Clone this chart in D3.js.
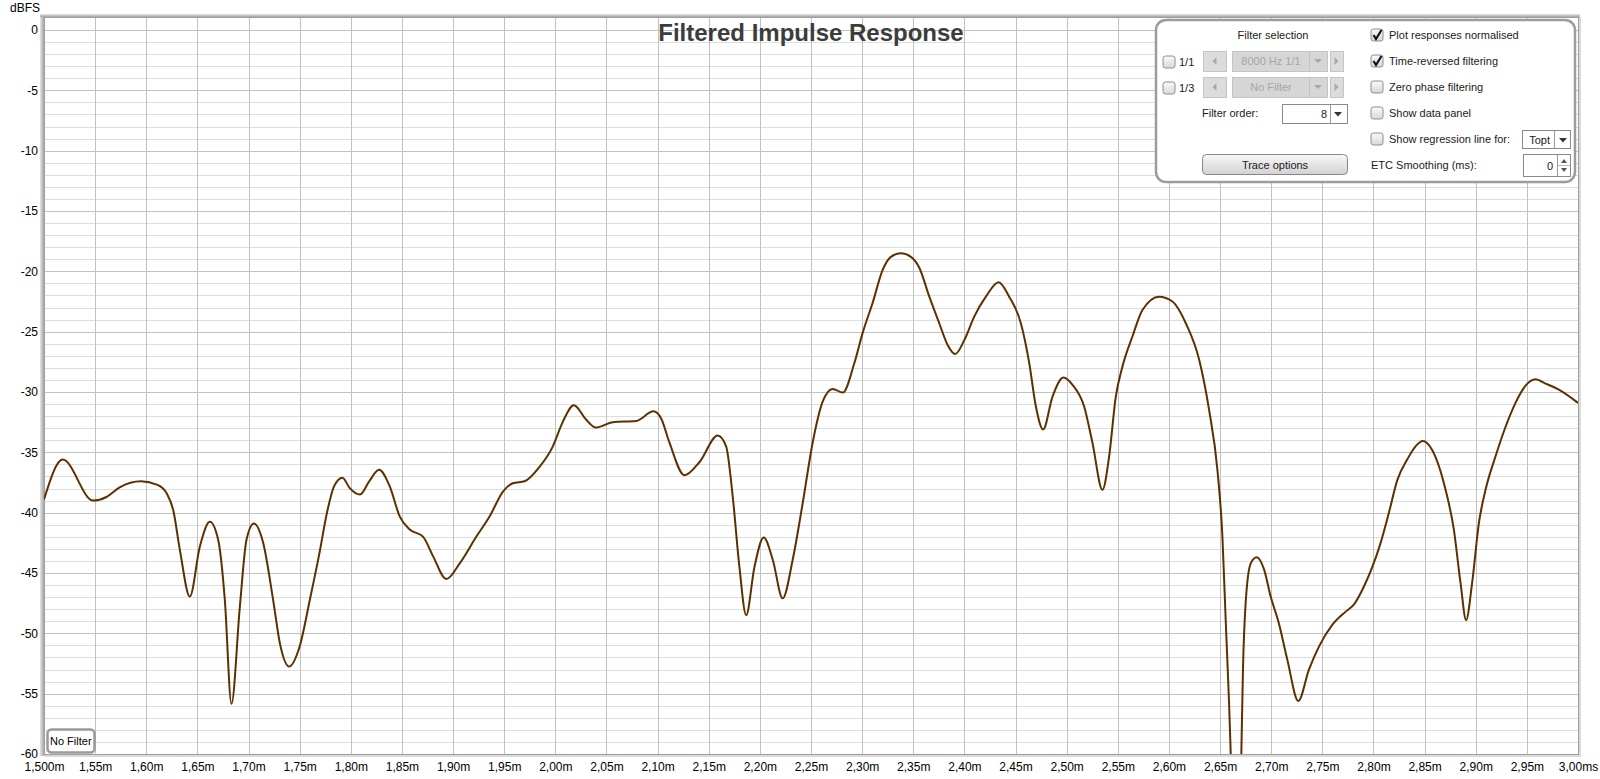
<!DOCTYPE html>
<html><head><meta charset="utf-8">
<script src="https://cdn.jsdelivr.net/npm/d3@7/dist/d3.min.js"></script>
<style>
html,body{margin:0;padding:0;background:#fff;}
svg{display:block;font-family:"Liberation Sans",Arial,sans-serif;}
</style></head><body>
<svg id="chart" width="1600" height="779"></svg>
<script>
// ---- data ----
const times = [1.500,1.5183,1.548,1.561,1.574,1.5948,1.611,1.620,1.6264,1.6329,1.6426,1.6524,1.6622,1.6703,1.6768,1.6833,1.6915,1.698,1.7052,1.7143,1.724,1.7306,1.7397,1.7501,1.760,1.769,1.7772,1.7837,1.7918,1.799,1.809,1.818,1.8276,1.838,1.8478,1.8576,1.8706,1.8804,1.8934,1.9065,1.9228,1.9358,1.9488,1.9585,1.970,1.9846,1.9976,2.0074,2.0181,2.0302,2.0393,2.0562,2.079,2.096,2.1035,2.1116,2.1263,2.141,2.1588,2.167,2.1735,2.180,2.1866,2.1947,2.2038,2.2126,2.2223,2.2321,2.2419,2.2516,2.2614,2.2712,2.281,2.2924,2.3005,2.3103,2.32,2.3281,2.3379,2.3477,2.3559,2.3657,2.3754,2.3836,2.391,2.3999,2.4096,2.421,2.4334,2.4438,2.4552,2.4634,2.4699,2.477,2.4861,2.4969,2.5057,2.5171,2.5252,2.535,2.5415,2.548,2.5545,2.5643,2.5741,2.5904,2.6034,2.6165,2.6295,2.6393,2.6474,2.6523,2.6555,2.6588,2.6604,2.6660,2.6708,2.6724,2.675,2.68,2.6858,2.693,2.6995,2.7076,2.7158,2.7265,2.7369,2.7467,2.7597,2.7728,2.781,2.7908,2.7989,2.807,2.8151,2.8233,2.833,2.8411,2.8483,2.8574,2.8705,2.8786,2.8851,2.8906,2.8965,2.903,2.9096,2.9193,2.9291,2.9389,2.9485,2.9584,2.9682,2.9812,3.000];
const levels = [-38.9,-35.6,-39.0,-38.7,-37.9,-37.4,-37.7,-38.4,-39.8,-43.1,-46.95,-42.8,-40.76,-42.25,-47.2,-55.84,-47.8,-42.25,-40.9,-42.5,-47.2,-50.8,-52.75,-51.05,-47.2,-43.5,-39.8,-37.8,-37.1,-37.97,-38.5,-37.4,-36.45,-37.8,-40.3,-41.4,-41.98,-43.6,-45.5,-44.2,-41.98,-40.3,-38.25,-37.56,-37.4,-36.2,-34.5,-32.45,-31.1,-32.3,-32.95,-32.5,-32.4,-31.6,-32.2,-34.2,-36.9,-35.8,-33.6,-34.5,-38.7,-44.5,-48.5,-44.5,-42.06,-43.9,-47.1,-43.9,-39.2,-34.2,-30.8,-29.74,-30.05,-27.6,-25.1,-22.6,-19.9,-18.8,-18.5,-18.8,-19.7,-22.1,-24.3,-26.1,-26.85,-25.7,-23.75,-22.1,-20.9,-22.1,-24.3,-27.6,-31.2,-33.1,-30.4,-28.8,-29.4,-31.2,-34.2,-38.1,-35.35,-30.4,-27.9,-25.4,-23.2,-22.1,-22.5,-24.3,-27.3,-31.5,-36.45,-42.0,-48.9,-55.8,-59.9,-75,-59.9,-53.0,-47.5,-44.2,-43.7,-44.7,-46.95,-49.2,-52.2,-55.6,-53.0,-51.1,-49.3,-48.2,-47.6,-46.1,-44.5,-42.5,-40.0,-37.3,-35.6,-34.5,-34.05,-34.8,-38.1,-41.4,-45.8,-48.9,-45.8,-40.9,-38.1,-35.35,-32.9,-30.9,-29.5,-28.95,-29.3,-29.8,-30.9];
const xTickValues = d3.range(0,31).map(i => +(1.5 + i*0.05).toFixed(2));
const xTickLabels = ["1,500m","1,55m","1,60m","1,65m","1,70m","1,75m","1,80m","1,85m","1,90m","1,95m","2,00m","2,05m","2,10m","2,15m","2,20m","2,25m","2,30m","2,35m","2,40m","2,45m","2,50m","2,55m","2,60m","2,65m","2,70m","2,75m","2,80m","2,85m","2,90m","2,95m","3,00ms"];
const yTickValues = [0,-5,-10,-15,-20,-25,-30,-35,-40,-45,-50,-55,-60];
const yTickLabels = ["0","-5","-10","-15","-20","-25","-30","-35","-40","-45","-50","-55","-60"];
const yMinorValues = d3.range(-60,1,1);
const titleText = "Filtered Impulse Response";
const yAxisTitle = "dBFS";

// ---- layout ----
const L=44, R=1578, T=17, B=754;
const svg = d3.select("#chart");
const x = d3.scaleLinear().domain([1.5,3.0]).range([L,R]);
const y = d3.scaleLinear().domain([-60,1.08]).range([B,T]);

const defs = svg.append("defs");
defs.append("clipPath").attr("id","plotclip").append("rect").attr("x",L).attr("y",T).attr("width",R-L).attr("height",B-T);
const gl = defs.append("linearGradient").attr("id","shadeL").attr("x1","0").attr("x2","1").attr("y1","0").attr("y2","0");
gl.append("stop").attr("offset","0").attr("stop-color","#e6e6e6");
gl.append("stop").attr("offset","1").attr("stop-color","#a4a4a4");
const gt = defs.append("linearGradient").attr("id","shadeT").attr("x1","0").attr("x2","0").attr("y1","0").attr("y2","1");
gt.append("stop").attr("offset","0").attr("stop-color","#e6e6e6");
gt.append("stop").attr("offset","1").attr("stop-color","#a4a4a4");
const gb = defs.append("linearGradient").attr("id","btnGrad").attr("x1","0").attr("x2","0").attr("y1","0").attr("y2","1");
gb.append("stop").attr("offset","0").attr("stop-color","#f8f8f8");
gb.append("stop").attr("offset","1").attr("stop-color","#d2d2d2");
const gc = defs.append("linearGradient").attr("id","cbGrad").attr("x1","0").attr("x2","0").attr("y1","0").attr("y2","1");
gc.append("stop").attr("offset","0").attr("stop-color","#fafafa");
gc.append("stop").attr("offset","1").attr("stop-color","#d8d8d8");

// plot background
svg.append("rect").attr("x",L).attr("y",T).attr("width",R-L).attr("height",B-T).attr("fill","#fff");

// grid
const grid = svg.append("g");
grid.selectAll("line.minor").data(yMinorValues.filter(v=>v%5!==0)).join("line")
  .attr("x1",L).attr("x2",R).attr("y1",d=>Math.round(y(d))+0.5).attr("y2",d=>Math.round(y(d))+0.5)
  .attr("stroke","#dedede").attr("stroke-width",1);
grid.selectAll("line.vmaj").data(xTickValues).join("line")
  .attr("y1",T).attr("y2",B).attr("x1",d=>Math.round(x(d))+0.5).attr("x2",d=>Math.round(x(d))+0.5)
  .attr("stroke","#c2c2c2").attr("stroke-width",1);
grid.selectAll("line.hmaj").data(yTickValues).join("line")
  .attr("x1",L).attr("x2",R).attr("y1",d=>Math.round(y(d))+0.5).attr("y2",d=>Math.round(y(d))+0.5)
  .attr("stroke","#c2c2c2").attr("stroke-width",1);

// frame with shading
svg.append("rect").attr("x",L-4).attr("y",T-3).attr("width",4).attr("height",B-T+5).attr("fill","url(#shadeL)");
svg.append("rect").attr("x",L-4).attr("y",T-3).attr("width",R-L+6).attr("height",3).attr("fill","url(#shadeT)");
svg.append("rect").attr("x",L).attr("y",B+1).attr("width",R-L+3).attr("height",2).attr("fill","#dadada");
svg.append("rect").attr("x",R+1).attr("y",T).attr("width",2).attr("height",B-T+3).attr("fill","#dadada");
svg.append("rect").attr("x",L+0.5).attr("y",T+0.5).attr("width",R-L).attr("height",B-T).attr("fill","none").attr("stroke","#9e9e9e");

// curve
const pts = times.map((t,i)=>[t,levels[i]]);
const line = d3.line().x(d=>x(d[0])).y(d=>y(d[1])).curve(d3.curveMonotoneX);
svg.append("path").attr("clip-path","url(#plotclip)").datum(pts).attr("d",line)
  .attr("fill","none").attr("stroke","#5c3100").attr("stroke-width",2).attr("stroke-linejoin","round");

// axes
const xAxis = d3.axisBottom(x).tickValues(xTickValues).tickSize(0).tickPadding(0)
  .tickFormat((d,i)=>xTickLabels[i]);
const gx = svg.append("g").attr("transform",`translate(0,${B+8})`).call(xAxis);
gx.select(".domain").remove();
gx.selectAll("text").attr("font-size",12).attr("fill","#000").attr("font-family","'Liberation Sans',Arial,sans-serif").attr("dy","0.71em");

const yAxis = d3.axisLeft(y).tickValues(yTickValues).tickSize(0).tickPadding(0)
  .tickFormat((d,i)=>yTickLabels[i]);
const gy = svg.append("g").attr("transform",`translate(${L-6},0)`).call(yAxis);
gy.select(".domain").remove();
gy.selectAll("text").attr("font-size",12).attr("fill","#000").attr("font-family","'Liberation Sans',Arial,sans-serif");

svg.append("text").attr("x",10).attr("y",12).attr("font-size",12).attr("fill","#000").text(yAxisTitle);

// title
svg.append("text").attr("x",(L+R)/2).attr("y",41).attr("text-anchor","middle")
  .attr("font-size",24).attr("font-weight","bold").attr("fill","#3c3c3c").text(titleText);

// "No Filter" label
svg.append("rect").attr("x",47.5).attr("y",729.5).attr("width",47).attr("height",23).attr("rx",4)
  .attr("fill","#fff").attr("stroke","#9a9a9a").attr("stroke-width",2.5);
svg.append("text").attr("x",50).attr("y",745).attr("font-size",11).attr("fill","#000").text("No Filter");

// control panel
const p = svg.append("g").attr("font-size",11).attr("fill","#1a1a1a");
p.append("rect").attr("x",1156).attr("y",20).attr("width",419).attr("height",162).attr("rx",10)
  .attr("fill","#fff").attr("stroke","#9c9c9c").attr("stroke-width",2.5);

function checkbox(cx, cy, checked){
  p.append("rect").attr("x",cx).attr("y",cy).attr("width",12).attr("height",12).attr("rx",2.5)
    .attr("fill","url(#cbGrad)").attr("stroke","#8c8c8c");
  if(checked){
    p.append("path").attr("d",`M${cx+2.5},${cy+6} L${cx+5},${cy+10} L${cx+10.5},${cy+1}`)
      .attr("fill","none").attr("stroke","#111").attr("stroke-width",2.2);
  }
}
function text(tx, ty, s, anchor, color){
  p.append("text").attr("x",tx).attr("y",ty).attr("text-anchor",anchor||"start").attr("fill",color||"#1a1a1a").text(s);
}
function grayBtn(bx, by, w, h, dir){
  p.append("rect").attr("x",bx+0.5).attr("y",by+0.5).attr("width",w).attr("height",h).attr("fill","#dcdcdc").attr("stroke","#c4c4c4");
  const cx = bx + w/2, cy = by + h/2;
  const d = dir<0 ? `M${cx+2},${cy-4} L${cx-2},${cy} L${cx+2},${cy+4} Z` : `M${cx-2},${cy-4} L${cx+2},${cy} L${cx-2},${cy+4} Z`;
  p.append("path").attr("d",d).attr("fill","#a8a8a8");
}
function grayCombo(bx, by, w, h, s){
  p.append("rect").attr("x",bx+0.5).attr("y",by+0.5).attr("width",w).attr("height",h).attr("fill","#d6d6d6").attr("stroke","#c4c4c4");
  p.append("line").attr("x1",bx+w-17.5).attr("x2",bx+w-17.5).attr("y1",by+1).attr("y2",by+h).attr("stroke","#c4c4c4");
  const ax = bx+w-9, ay = by+h/2;
  p.append("path").attr("d",`M${ax-4},${ay-2} L${ax+4},${ay-2} L${ax},${ay+2} Z`).attr("fill","#a8a8a8");
  text(bx+(w-17)/2, by+h/2+4, s, "middle", "#a6a6a6");
}
function whiteCombo(bx, by, w, h, s){
  p.append("rect").attr("x",bx+0.5).attr("y",by+0.5).attr("width",w).attr("height",h).attr("fill","#fff").attr("stroke","#8a8a8a");
  p.append("line").attr("x1",bx+w-16.5).attr("x2",bx+w-16.5).attr("y1",by+1).attr("y2",by+h).attr("stroke","#9a9a9a");
  const ax = bx+w-8, ay = by+h/2;
  p.append("path").attr("d",`M${ax-4},${ay-2} L${ax+4},${ay-2} L${ax},${ay+2.5} Z`).attr("fill","#333");
  text(bx+w-20, by+h/2+4, s, "end");
}

text(1273, 39, "Filter selection", "middle");
checkbox(1163, 56, false); text(1179, 66, "1/1");
grayBtn(1203, 51, 23, 20, -1); grayCombo(1232, 51, 95, 20, "8000 Hz 1/1"); grayBtn(1330, 51, 13, 20, 1);
checkbox(1163, 82, false); text(1179, 92, "1/3");
grayBtn(1203, 77, 23, 20, -1); grayCombo(1232, 77, 95, 20, "No Filter"); grayBtn(1330, 77, 13, 20, 1);
text(1202, 117, "Filter order:");
// filter order combo
p.append("rect").attr("x",1282.5).attr("y",104.5).attr("width",65).attr("height",19).attr("fill","#fff").attr("stroke","#8a8a8a");
p.append("line").attr("x1",1330.5).attr("x2",1330.5).attr("y1",105).attr("y2",123).attr("stroke","#9a9a9a");
p.append("path").attr("d","M1334,112 L1342,112 L1338,116.5 Z").attr("fill","#333");
text(1327, 118, "8", "end");
// trace options button
p.append("rect").attr("x",1202.5).attr("y",154.5).attr("width",145).attr("height",20).attr("rx",4)
  .attr("fill","url(#btnGrad)").attr("stroke","#888");
text(1275, 168.5, "Trace options", "middle");

// right column
checkbox(1371, 29, true);  text(1389, 39, "Plot responses normalised");
checkbox(1371, 55, true);  text(1389, 65, "Time-reversed filtering");
checkbox(1371, 81, false); text(1389, 91, "Zero phase filtering");
checkbox(1371, 107, false); text(1389, 117, "Show data panel");
checkbox(1371, 133, false); text(1389, 143, "Show regression line for:");
// Topt combo
p.append("rect").attr("x",1522.5).attr("y",130.5).attr("width",48).attr("height",18).attr("fill","#fff").attr("stroke","#8a8a8a");
p.append("line").attr("x1",1554.5).attr("x2",1554.5).attr("y1",131).attr("y2",148).attr("stroke","#9a9a9a");
p.append("path").attr("d","M1559,138 L1567,138 L1563,142.5 Z").attr("fill","#333");
text(1550, 144, "Topt", "end");
text(1371, 169, "ETC Smoothing (ms):");
// spinner
p.append("rect").attr("x",1523.5).attr("y",154.5).attr("width",47).attr("height",22).attr("fill","#fff").attr("stroke","#8a8a8a");
p.append("line").attr("x1",1557.5).attr("x2",1557.5).attr("y1",155).attr("y2",176).attr("stroke","#9a9a9a");
p.append("line").attr("x1",1558).attr("x2",1570).attr("y1",165.5).attr("y2",165.5).attr("stroke","#bbb");
p.append("path").attr("d","M1561,163 L1567,163 L1564,159 Z").attr("fill","#555");
p.append("path").attr("d","M1561,168 L1567,168 L1564,172 Z").attr("fill","#555");
text(1553, 170, "0", "end");
</script>
</body></html>
